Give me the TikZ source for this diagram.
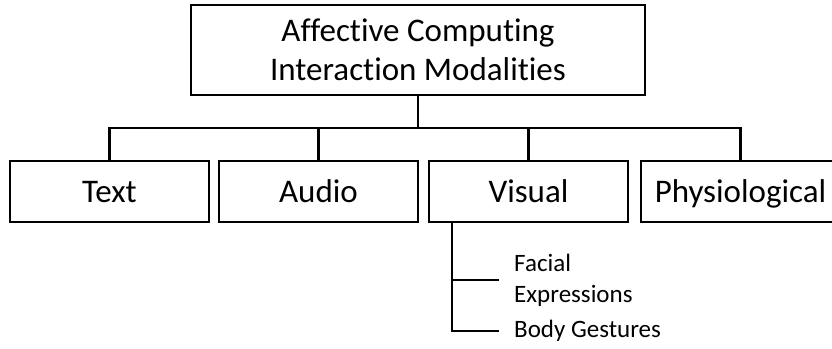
\documentclass[tikz,border=0pt]{standalone}
\usepackage{fontspec}
\setmainfont{Carlito}[Ligatures=NoCommon]
\usepackage{tikz}
\usetikzlibrary{calc}

\tikzset{
  modbox/.style={draw,inner sep=0pt,minimum width=199pt,minimum height=61pt,
    text height=27pt,text depth=6pt,font=\fontsize{33}{39}\selectfont},
  subitem/.style={anchor=west,inner xsep=14pt,inner ysep=0pt,align=left,
    font=\fontsize{25}{31}\selectfont}
}

\begin{document}
\begin{tikzpicture}[x=1pt,y=-1pt,line width=2.4pt]
    \useasboundingbox (0,0) rectangle (832,348);
    % root box
    \node[draw,inner sep=0pt,minimum width=454pt,minimum height=90pt,align=center,
      font=\fontsize{33}{39}\selectfont] (root) at (418,50)
      {Affective Computing\\Interaction Modalities};
    % modalities
    \node[modbox] (text) at (109.5,191.5) {Text};
    \node[modbox] (audio) at (318.5,191.5) {Audio};
    \node[modbox] (visual) at (528.5,191.5) {Visual};
    \node[modbox] (physio) at (740.5,191.5) {Physiological};
    \foreach \n in {text,audio,visual,physio}
      \draw (root.south) |- ($(root.south)!0.5!(\n.north)$) -| (\n.north);
    % visual cues
    \coordinate (trunk) at ([xshift=24pt]visual.south west);
    \node[subitem] (facial) at (499,280) {Facial\\Expressions};
    \node[subitem] (body) at (499,331) {Body Gestures};
    \draw (trunk) |- (facial.west);
    \draw (trunk) |- (body.west);
  \end{tikzpicture}
\end{document}
